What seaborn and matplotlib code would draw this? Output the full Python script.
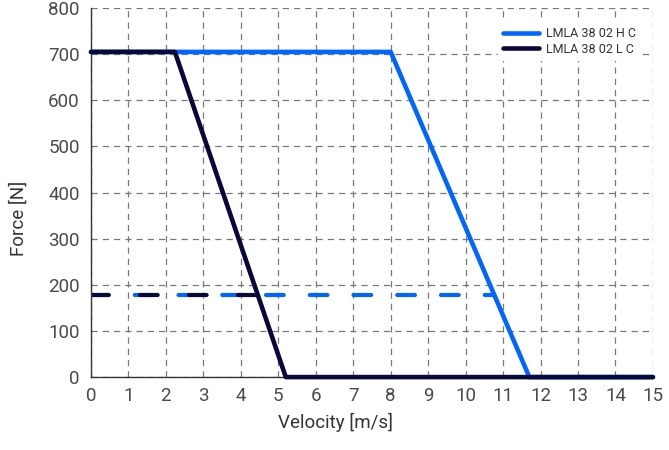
import matplotlib
matplotlib.use("Agg")
import matplotlib.pyplot as plt
import seaborn as sns
import pandas as pd

# Force–velocity curves for two linear motor variants
velocity_h = [0, 8.0, 11.7, 15]
force_h = [705, 705, 0, 0]
velocity_l = [0, 2.24, 5.2, 15]
force_l = [705, 705, 0, 0]

# Continuous force levels, drawn up to where they meet the peak curves
cont_velocity_h = [0, 10.77]
cont_force_h = [177, 177]
cont_velocity_l = [0, 4.46]
cont_force_l = [177, 177]

series_names = ["LMLA 38 02 H C", "LMLA 38 02 L C"]
colors = ["#0066FF", "#08083A"]

x_ticks = list(range(0, 16))
y_ticks = list(range(0, 801, 100))

sns.set_theme(style="white")
plt.rcParams["font.family"] = ["Roboto", "DejaVu Sans"]

fig = plt.figure(figsize=(6.69, 4.5), dpi=100)
ax = fig.add_axes([0.136, 0.162, 0.840, 0.820])

peak = pd.DataFrame({
    "v": velocity_h + velocity_l,
    "F": force_h + force_l,
    "series": [series_names[0]] * len(velocity_h) + [series_names[1]] * len(velocity_l),
})

sns.lineplot(data=peak, x="v", y="F", hue="series", palette=colors,
             hue_order=series_names, sort=False, estimator=None,
             linewidth=3.3, ax=ax, clip_on=False, zorder=3)

cont_h = pd.DataFrame({"v": cont_velocity_h, "F": cont_force_h})
cont_l = pd.DataFrame({"v": cont_velocity_l, "F": cont_force_l})
sns.lineplot(data=cont_h, x="v", y="F", color=colors[0], linewidth=3,
             ax=ax, zorder=2, legend=False)
line_h = ax.lines[-1]
sns.lineplot(data=cont_l, x="v", y="F", color=colors[1], linewidth=3,
             ax=ax, zorder=2.5, legend=False)
line_l = ax.lines[-1]
line_h.set_dashes([4.25, 6.25])
line_l.set_dashes([4.25, 7.5])
for ln in (line_h, line_l):
    ln.set_dash_capstyle("round")

ax.set_xlim(0, 15)
ax.set_ylim(0, 800)
ax.set_xticks(x_ticks)
ax.set_yticks(y_ticks)
ax.grid(True, color="#787878", linestyle=(0, (5, 4)), linewidth=0.9)
ax.set_axisbelow(True)

for side in ["top", "right"]:
    ax.spines[side].set_visible(False)
for side in ["left", "bottom"]:
    ax.spines[side].set_color("#333333")
    ax.spines[side].set_linewidth(1.0)

ax.tick_params(axis="x", length=0, labelsize=13.5, labelcolor="#4a4a4a", pad=7)
ax.tick_params(axis="y", length=0, labelsize=13.5, labelcolor="#4a4a4a", pad=8)
ax.set_xlabel("Velocity [m/s]", fontsize=13.5, color="#333333", labelpad=4)
ax.set_ylabel("Force [N]", fontsize=13.5, color="#333333", labelpad=15)
ax.xaxis.set_label_coords(0.435, -0.097)
ax.yaxis.label.set_y(0.431)

leg = ax.legend(title=None, loc="upper left", bbox_to_anchor=(0.744, 0.951),
                bbox_transform=fig.transFigure, borderaxespad=0,
                frameon=True, facecolor="white", edgecolor="none", framealpha=1,
                fancybox=False, borderpad=0.4, fontsize=9, handlelength=2.9,
                handletextpad=0.6, labelspacing=0.2)
for h in leg.get_lines():
    h.set_linewidth(3.3)
for t in leg.get_texts():
    t.set_color("#333333")

fig.savefig("out.png", dpi=100)
